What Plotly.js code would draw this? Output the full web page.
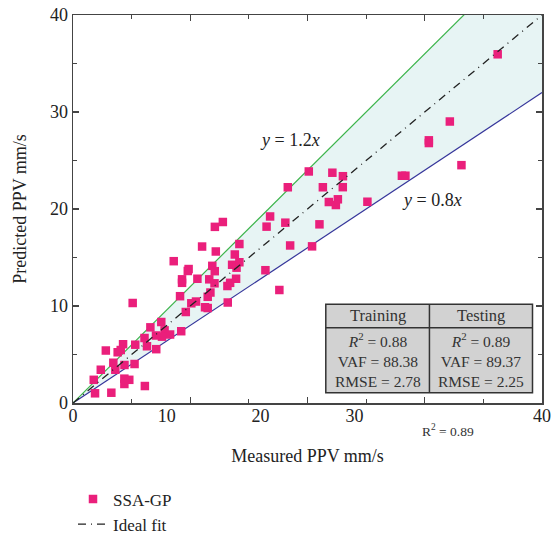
<!DOCTYPE html>
<html>
<head>
<meta charset="utf-8">
<script src="https://cdn.plot.ly/plotly-3.0.1.min.js"></script>
<style>html,body{margin:0;padding:0;background:#fff;}#chart{width:551px;height:535px;}</style>
</head>
<body>
<div id="chart"></div>
<script>
// Measured PPV (mm/s)
const measured = [36.22, 32.14, 30.35, 30.35, 33.13, 28.05, 28.35, 20.11, 22.12, 23.02,
  18.32, 21.31, 23.01, 21.82, 22.59, 22.42, 25.11, 21.02, 20.39, 16.81,
  16.51, 18.11, 18.52, 17.60, 16.41, 12.10, 12.78, 11.01, 12.18, 14.19,
  13.80, 8.59, 9.86, 9.79, 11.88, 12.09, 13.57, 13.95, 14.19, 9.30,
  9.30, 10.61, 11.62, 12.07, 13.17, 13.40, 13.91, 9.13, 11.72, 11.49,
  10.09, 10.49, 11.26, 11.49, 13.20, 9.62, 5.09, 7.53, 6.60, 7.81,
  8.28, 7.08, 7.59, 9.23, 6.10, 5.31, 6.31, 7.10, 4.27, 3.81,
  4.07, 2.80, 3.44, 4.39, 5.25, 3.61, 2.37, 1.77, 4.38, 4.80,
  4.38, 6.13, 3.27, 1.88];
// Predicted PPV (mm/s)
const predicted = [35.95, 29.02, 27.08, 26.80, 24.52, 23.43, 23.43, 23.87, 23.74, 23.38,
  22.24, 22.24, 22.25, 20.72, 21.00, 20.41, 20.75, 18.42, 16.15, 19.23,
  18.18, 18.59, 16.24, 11.65, 13.69, 18.16, 18.66, 16.13, 15.62, 16.39,
  15.31, 14.62, 13.81, 13.61, 14.14, 13.59, 14.25, 13.95, 14.51, 12.75,
  12.39, 12.81, 12.75, 12.34, 12.06, 12.39, 12.81, 11.01, 11.39, 10.95,
  10.28, 10.46, 9.87, 9.79, 10.36, 9.38, 10.31, 8.35, 7.80, 7.49,
  7.06, 6.96, 6.84, 7.40, 6.70, 6.01, 5.85, 5.55, 6.06, 5.23,
  5.46, 5.41, 4.15, 3.92, 4.02, 3.43, 3.43, 2.39, 2.51, 2.39,
  1.96, 1.75, 1.06, 1.00];

const lineX = [0, 40];
const upperSlope = 1.2;
const lowerSlope = 0.8;
const idealSlope = 1.0;

// tick marks every 10 (with minor every 5); the x tick labels sit at their own positions
const tickVals = [0, 10, 20, 30, 40];
const tickText = ['0', '10', '20', '30', '40'];
const xLabelPos = [0, 8, 16, 24, 40];
const xLabelText = ['0', '10', '20', '30', '40'];

const tableHeaders = ['Training', 'Testing'];
const tableR2 = ['0.88', '0.89'];
const tableVAF = ['88.38', '89.37'];
const tableRMSE = ['2.78', '2.25'];
const bottomR2 = '0.89';

const serif = 'Liberation Serif, Times New Roman, serif';
const pink = '#ea1f7b';

const traces = [
  { x: lineX, y: lineX.map(v => v * lowerSlope), mode: 'lines',
    line: {color: '#35359a', width: 1.2}, showlegend: false, hoverinfo: 'skip' },
  { x: lineX, y: lineX.map(v => v * upperSlope), mode: 'lines', fill: 'tonexty',
    fillcolor: 'rgba(215,236,236,0.6)',
    line: {color: '#3cb44b', width: 1.2}, showlegend: false, hoverinfo: 'skip' },
  { x: measured, y: predicted, mode: 'markers', name: 'SSA-GP',
    marker: {symbol: 'square', size: 8.5, color: pink} },
  { x: lineX, y: lineX.map(v => v * idealSlope), mode: 'lines', name: 'Ideal fit',
    line: {color: '#222', width: 1.3, dash: '8px,5px,1px,5px'} },
  // carrier for the label axis (draws nothing)
  { x: lineX, y: lineX, xaxis: 'x2', mode: 'lines', line: {width: 0, color: 'rgba(0,0,0,0)'},
    showlegend: false, hoverinfo: 'skip' }
];

// table geometry (data coords)
const tx0 = 21.56, tx1 = 39.19, tMid = 30.4, ty0 = 1.06, ty1 = 10.18, tHead = 7.76;

const layout = {
  width: 551, height: 535,
  margin: {l: 73, r: 9, t: 15, b: 132, autoexpand: false},
  paper_bgcolor: '#fff', plot_bgcolor: '#fff',
  font: {family: serif, size: 17, color: '#222'},
  xaxis: {
    range: [0, 40], tickvals: tickVals, ticktext: tickText, showticklabels: false,
    ticks: 'inside', ticklen: 6, tickwidth: 1.2, tickcolor: '#444',
    minor: {dtick: 5, ticks: 'inside', ticklen: 4, tickcolor: '#444'},
    showline: true, linecolor: '#444', linewidth: 1.5, mirror: 'ticks',
    showgrid: false, zeroline: false, automargin: false,
    title: {text: 'Measured PPV mm/s', font: {family: serif, size: 18, color: '#222'}, standoff: 46}
  },
  xaxis2: {
    overlaying: 'x', side: 'bottom', anchor: 'y', range: [0, 40],
    tickvals: xLabelPos, ticktext: xLabelText, ticks: '', showline: false,
    showgrid: false, zeroline: false, automargin: false,
    tickfont: {family: serif, size: 18, color: '#222'}
  },
  yaxis: {
    range: [0, 40], tickvals: tickVals, ticktext: tickText,
    ticks: 'inside', ticklen: 6, tickwidth: 1.2, tickcolor: '#444',
    minor: {dtick: 5, ticks: 'inside', ticklen: 4, tickcolor: '#444'},
    showline: true, linecolor: '#444', linewidth: 1.5, mirror: 'ticks',
    showgrid: false, zeroline: false, automargin: false,
    tickfont: {family: serif, size: 18, color: '#222'},
    title: {text: 'Predicted PPV mm/s', font: {family: serif, size: 18, color: '#222'}, standoff: 18}
  },
  showlegend: true,
  legend: {x: 0.0, y: -0.202, xanchor: 'left', yanchor: 'top',
    font: {family: serif, size: 17, color: '#222'}, bgcolor: 'rgba(0,0,0,0)',
    traceorder: 'normal', tracegroupgap: 0},
  shapes: [
    {type: 'rect', xref: 'x', yref: 'y', x0: tx0, x1: tx1, y0: ty0, y1: ty1,
     fillcolor: '#d2d2d2', line: {color: '#333', width: 1.5}, layer: 'above'},
    {type: 'line', xref: 'x', yref: 'y', x0: tx0, x1: tx1, y0: tHead, y1: tHead,
     line: {color: '#333', width: 1.5}, layer: 'above'},
    {type: 'line', xref: 'x', yref: 'y', x0: tMid, x1: tMid, y0: ty0, y1: ty1,
     line: {color: '#333', width: 1.5}, layer: 'above'}
  ],
  annotations: [
    {x: 18.5, y: 27.1, xref: 'x', yref: 'y', showarrow: false,
     text: '<i>y</i> = 1.2<i>x</i>', font: {family: serif, size: 18, color: '#222'}},
    {x: 30.6, y: 20.9, xref: 'x', yref: 'y', showarrow: false,
     text: '<i>y</i> = 0.8<i>x</i>', font: {family: serif, size: 18, color: '#222'}},
    {x: (tx0 + tMid) / 2, y: (tHead + ty1) / 2, xref: 'x', yref: 'y', showarrow: false,
     text: tableHeaders[0], font: {family: serif, size: 16.5, color: '#333'}},
    {x: (tMid + tx1) / 2, y: (tHead + ty1) / 2, xref: 'x', yref: 'y', showarrow: false,
     text: tableHeaders[1], font: {family: serif, size: 16.5, color: '#333'}},
    {x: (tx0 + tMid) / 2, y: (ty0 + tHead) / 2, xref: 'x', yref: 'y', showarrow: false,
     text: '<i>R</i><sup>2</sup> = ' + tableR2[0] + '<br>VAF = ' + tableVAF[0] + '<br>RMSE = ' + tableRMSE[0],
     font: {family: serif, size: 15.5, color: '#333'}},
    {x: (tMid + tx1) / 2, y: (ty0 + tHead) / 2, xref: 'x', yref: 'y', showarrow: false,
     text: '<i>R</i><sup>2</sup> = ' + tableR2[1] + '<br>VAF = ' + tableVAF[1] + '<br>RMSE = ' + tableRMSE[1],
     font: {family: serif, size: 15.5, color: '#333'}},
    {x: 32, y: -0.045, xref: 'x', yref: 'paper', yanchor: 'top', showarrow: false,
     text: 'R<sup>2</sup> = ' + bottomR2, font: {family: serif, size: 13.5, color: '#333'}}
  ]
};

Plotly.newPlot('chart', traces, layout, {displayModeBar: false, staticPlot: true});
</script>
</body>
</html>
